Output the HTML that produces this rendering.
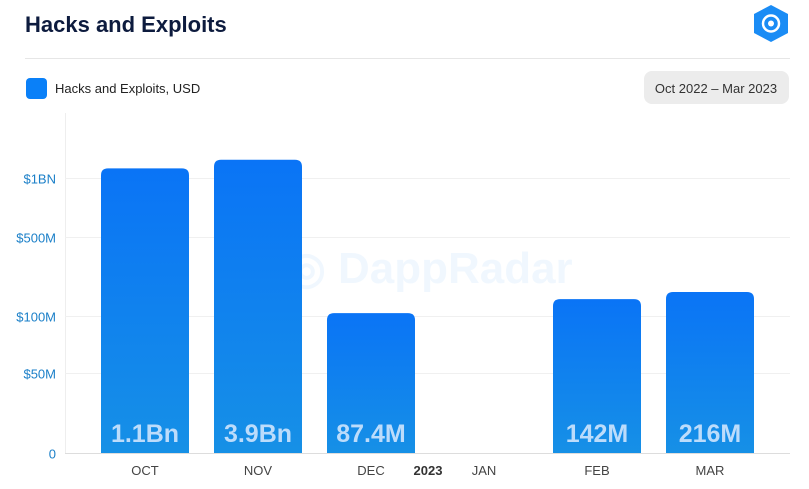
<!DOCTYPE html>
<html><head><meta charset="utf-8">
<style>
body{margin:0;background:#fff;font-family:"Liberation Sans",sans-serif;}
#wrap{position:relative;width:809px;height:489px;overflow:hidden;background:#fff;}
</style></head>
<body>
<div id="wrap">
<svg id="svg" width="809" height="489">
  <defs>
    <linearGradient id="bg" x1="0" y1="0" x2="0" y2="1">
      <stop offset="0" stop-color="#0a74f6"/>
      <stop offset="1" stop-color="#1690e6"/>
    </linearGradient>
  </defs>
  <text x="25" y="32" font-size="22" font-weight="bold" fill="#0d1b3e">Hacks and Exploits</text>
  <g>
    <polygon points="771,5 788,14 788,33 771,42 754,33 754,14" fill="#1a8cf5"/>
    <circle cx="771" cy="23.5" r="8" fill="none" stroke="#fff" stroke-width="2.5"/>
    <circle cx="771" cy="23.5" r="3" fill="#fff"/>
  </g>
  <line x1="25" y1="58.5" x2="790" y2="58.5" stroke="#e6e6e6"/>
  <rect x="26" y="78" width="21" height="21" rx="4" fill="#0a80f8"/>
  <text x="55" y="93" font-size="13" fill="#222">Hacks and Exploits, USD</text>
  <rect x="644" y="71" width="145" height="33" rx="8" fill="#ececec"/>
  <text x="716" y="93" font-size="13" fill="#333" text-anchor="middle">Oct 2022 – Mar 2023</text>
  <text x="430" y="283" font-size="44" font-weight="bold" fill="#1a8cf5" opacity="0.06" text-anchor="middle">◎ DappRadar</text>
  <line x1="65.5" y1="113" x2="65.5" y2="453" stroke="#eeeeee"/>
  <g id="grid"></g>
  <g id="bars"></g>
  <g id="xl"></g>
</svg>
</div>
<script>
const categories=["OCT","NOV","DEC","JAN","FEB","MAR"];
const barValues=[1.12e9,1.24e9,1.06e8,0,1.41e8,1.63e8];
const valueLabels=["1.1Bn","3.9Bn","87.4M","","142M","216M"];
const tickValues=[0,5e7,1e8,5e8,1e9];
const tickLabels=["0","$50M","$100M","$500M","$1BN"];
const tickPix=[453,373,316,237,178];
function y(v){
  if(v<=0)return 453;
  if(v<=tickValues[1])return 453-(v/tickValues[1])*(453-373);
  for(let i=1;i<tickValues.length-1;i++){
    if(v<=tickValues[i+1]||i===tickValues.length-2){
      const a=Math.log10(tickValues[i]),b=Math.log10(tickValues[i+1]);
      return tickPix[i]+(Math.log10(v)-a)/(b-a)*(tickPix[i+1]-tickPix[i]);
    }
  }
}
function x(i){return 145+i*113;}
const NS="http://www.w3.org/2000/svg";
const grid=document.getElementById('grid'),bars=document.getElementById('bars'),xl=document.getElementById('xl');
tickValues.forEach((t,i)=>{
  const yy=Math.round(y(t))+0.5;
  const l=document.createElementNS(NS,'line');
  l.setAttribute('x1',65);l.setAttribute('x2',790);l.setAttribute('y1',yy);l.setAttribute('y2',yy);
  l.setAttribute('stroke',i===0?'#dddddd':'#f0f0f0');
  
  
  grid.appendChild(l);
  const tx=document.createElementNS(NS,'text');
  tx.setAttribute('x',56);tx.setAttribute('y',yy+5);tx.setAttribute('text-anchor','end');
  tx.setAttribute('font-size','13');tx.setAttribute('fill','#1a7fc8');
  tx.textContent=tickLabels[i];
  
  
  grid.appendChild(tx);
});
categories.forEach((c,i)=>{
  const v=barValues[i];
  if(v>0){
    const top=y(v),bx=x(i)-44;
    const p=document.createElementNS(NS,'path');
    const r=7;
    p.setAttribute('d',`M${bx},453 V${top+r} Q${bx},${top} ${bx+r},${top} H${bx+88-r} Q${bx+88},${top} ${bx+88},${top+r} V453 Z`);
    p.setAttribute('fill','url(#bg)');
    
    
    bars.appendChild(p);
    const t=document.createElementNS(NS,'text');
    t.setAttribute('x',x(i));t.setAttribute('y',442);t.setAttribute('text-anchor','middle');
    t.setAttribute('font-size','25');t.setAttribute('font-weight','bold');t.setAttribute('fill','#bcdcfb');
    t.textContent=valueLabels[i];
    
    
    bars.appendChild(t);
  }
  const t=document.createElementNS(NS,'text');
  t.setAttribute('x',x(i));t.setAttribute('y',475);t.setAttribute('text-anchor','middle');
  t.setAttribute('font-size','13');t.setAttribute('fill','#444');
  t.textContent=c;
  
  
  xl.appendChild(t);
});
const yr=document.createElementNS(NS,'text');
yr.setAttribute('x',428);yr.setAttribute('y',475);yr.setAttribute('text-anchor','middle');
yr.setAttribute('font-size','13');yr.setAttribute('font-weight','bold');yr.setAttribute('fill','#333');
yr.textContent='2023';


xl.appendChild(yr);
</script>
</body></html>
